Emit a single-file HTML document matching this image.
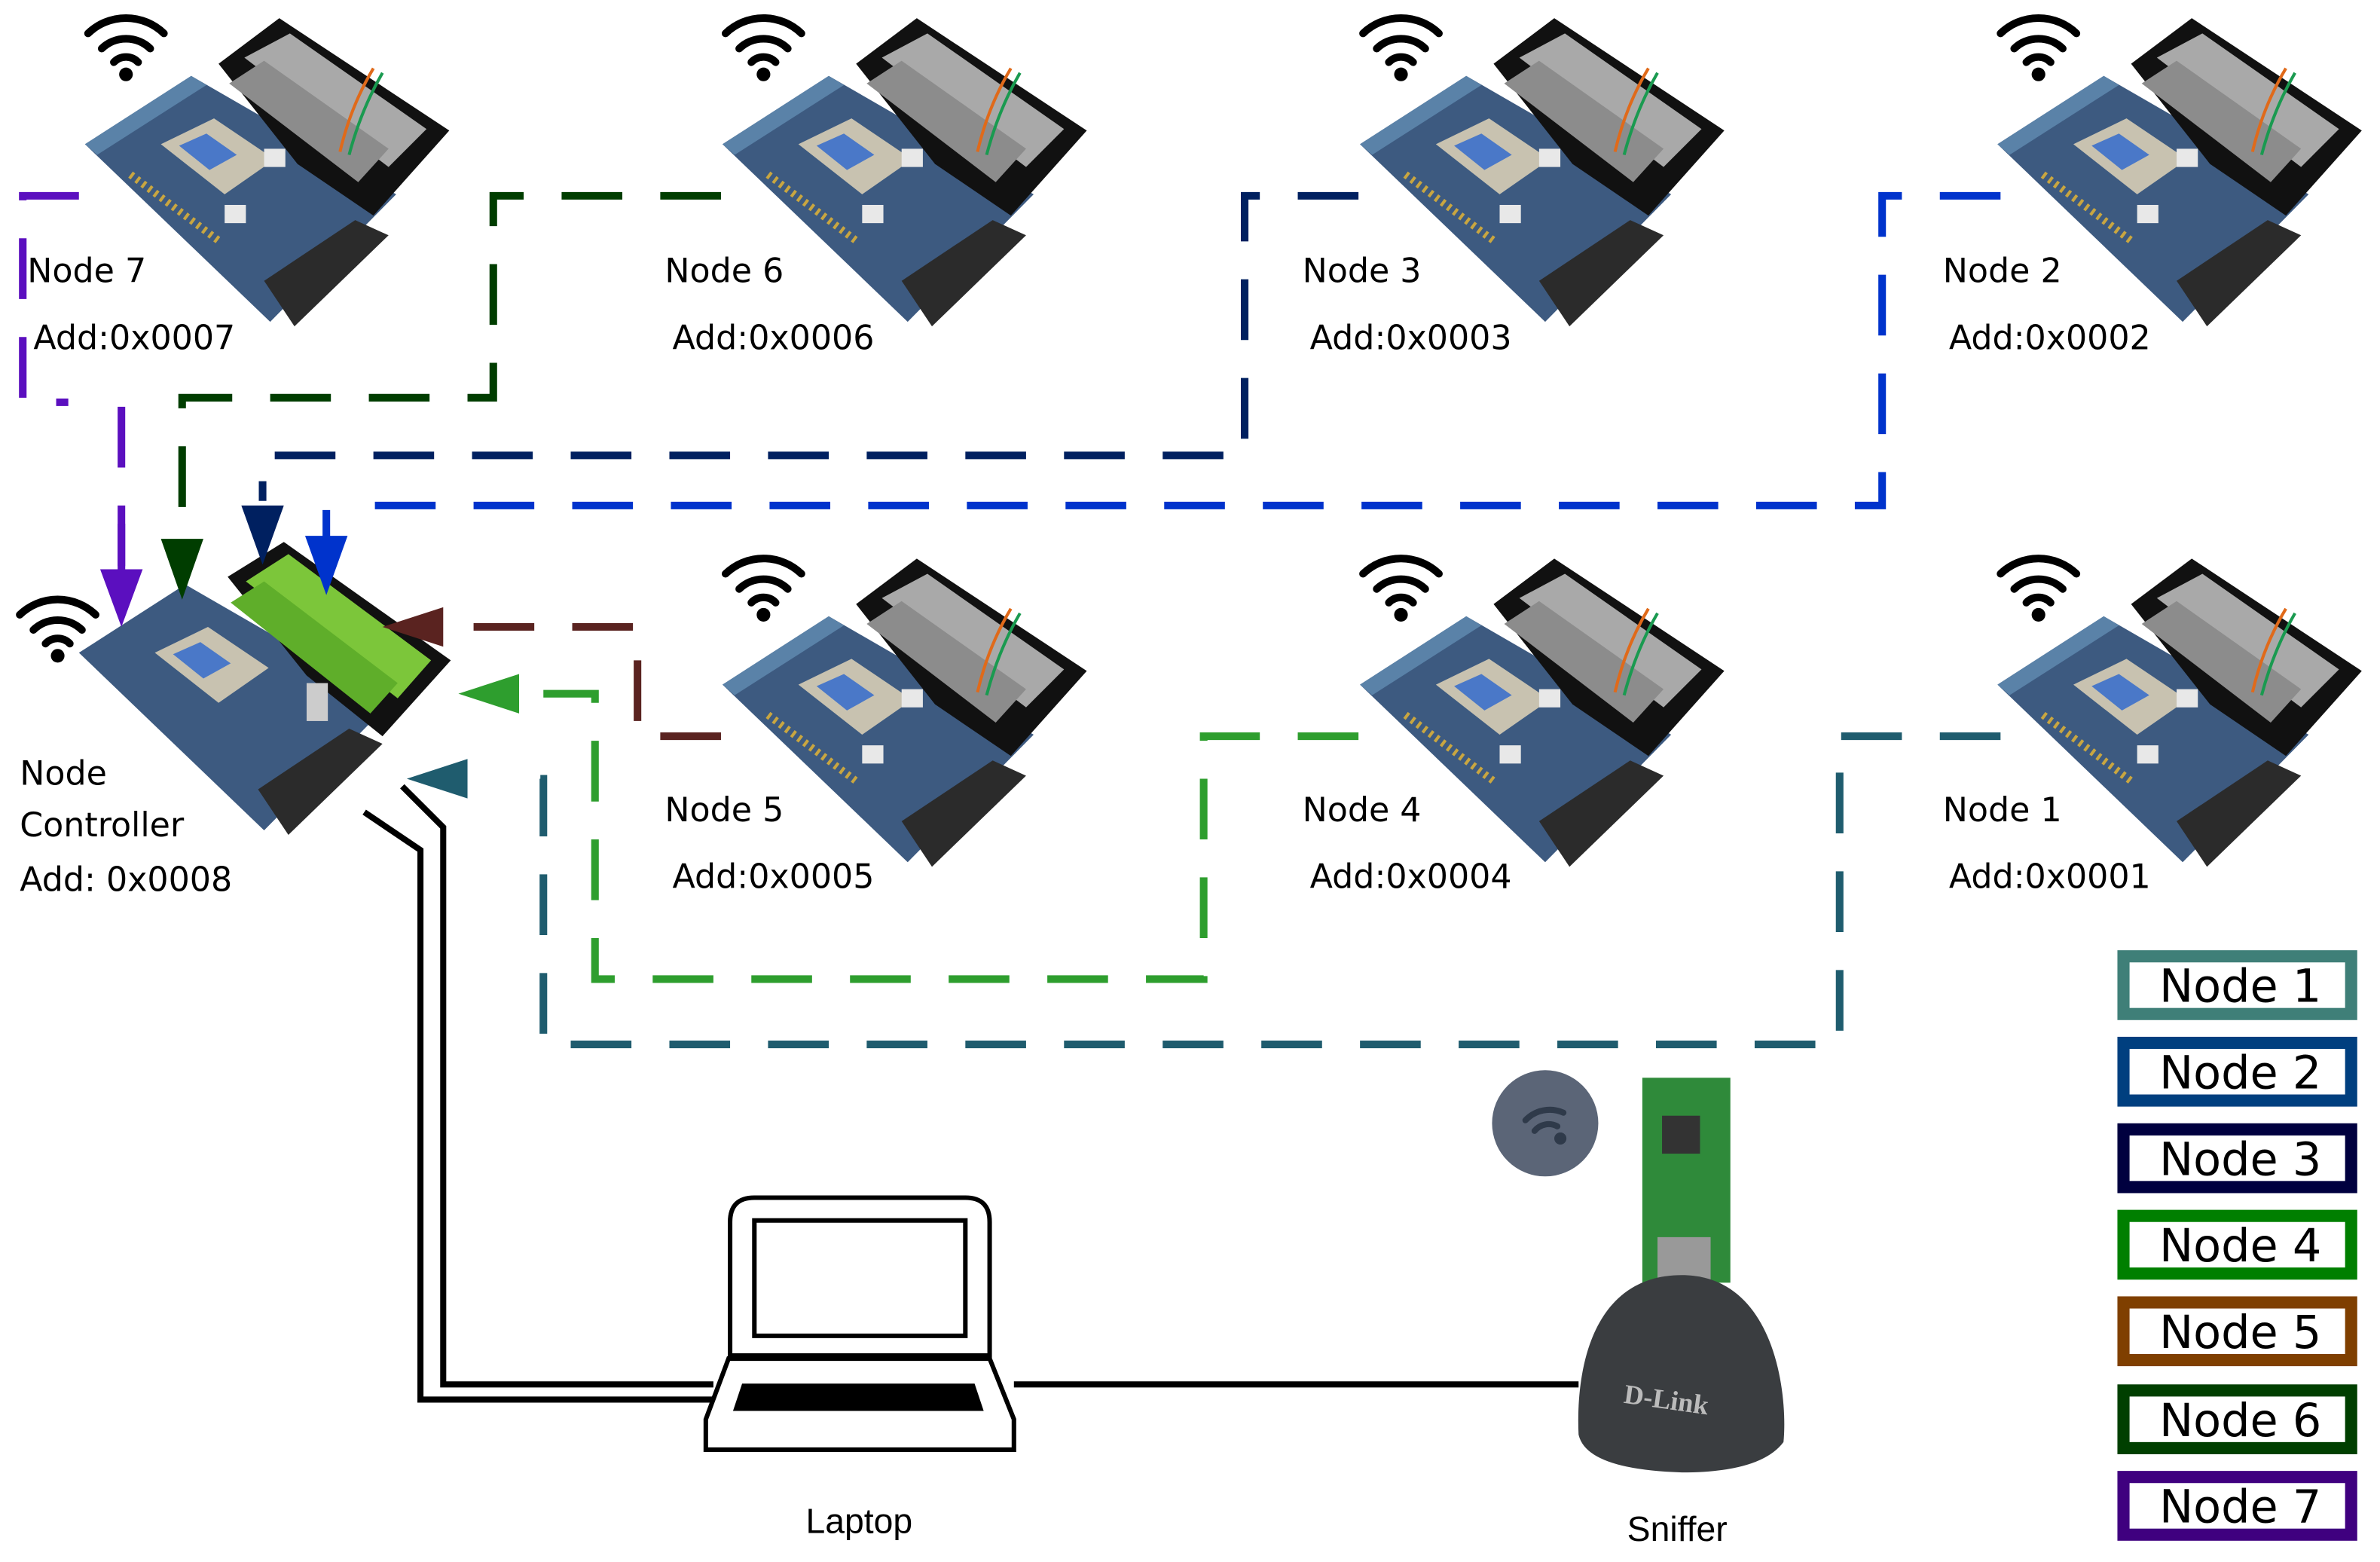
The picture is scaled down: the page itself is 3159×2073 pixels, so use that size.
<!DOCTYPE html>
<html><head><meta charset="utf-8"><style>
html,body{margin:0;padding:0;background:#fff;}
svg{display:block;}
text{font-family:"DejaVu Sans","Liberation Sans",sans-serif;}
</style></head><body>
<svg width="3159" height="2073" viewBox="0 0 1568 1029" preserveAspectRatio="none" xmlns="http://www.w3.org/2000/svg">
<defs>
<g id="board">
  <polygon points="0,95 70,50 205,128 122,212" fill="#3d5a80"/>
  <polygon points="0,95 70,50 80,56 8,102" fill="#5a82a8"/>
  <polygon points="88,42 128,12 240,86 190,142 140,108" fill="#111"/>
  <polygon points="105,38 135,22 225,85 200,110" fill="#a9a9a9"/>
  <polygon points="95,55 118,40 200,98 180,120" fill="#8c8c8c"/>
  <polygon points="50,95 85,78 125,105 92,128" fill="#c8c2b0"/>
  <polygon points="62,96 80,88 100,102 82,112" fill="#4a78c8"/>
  <polygon points="118,185 178,145 200,155 138,215" fill="#2b2b2b"/>
  <rect x="118" y="98" width="14" height="12" fill="#e8e8e8"/>
  <rect x="92" y="135" width="14" height="12" fill="#e8e8e8"/>
  <line x1="30" y1="115" x2="90" y2="160" stroke="#c9a640" stroke-width="5" stroke-dasharray="2,3"/>
  <path d="M190,45 Q175,70 168,100" stroke="#e06a1a" stroke-width="2" fill="none"/>
  <path d="M196,48 Q182,72 174,102" stroke="#1a9a50" stroke-width="2" fill="none"/>
</g>
<g id="wifi" fill="none" stroke="#000" stroke-width="5" stroke-linecap="round">
  <path d="M-25,-8 A36,36 0 0 1 25,-8"/>
  <path d="M-16,2 A23,23 0 0 1 16,2"/>
  <path d="M-8,11 A11,11 0 0 1 8,11"/>
  <circle cx="0" cy="19" r="4.5" fill="#000" stroke="none"/>
</g>
</defs>

<use href="#board" x="56" y="0"/>
<use href="#board" x="476" y="0"/>
<use href="#board" x="896" y="0"/>
<use href="#board" x="1316" y="0"/>
<use href="#board" x="476" y="356"/>
<use href="#board" x="896" y="356"/>
<use href="#board" x="1316" y="356"/>
<g transform="translate(52,335)">
  <polygon points="0,95 70,50 205,128 122,212" fill="#3d5a80"/>
  <polygon points="98,45 135,22 245,100 200,150 150,110" fill="#111"/>
  <polygon points="110,48 138,30 232,100 210,125" fill="#7cc63a"/>
  <polygon points="100,62 122,48 210,115 192,135" fill="#5fae2a"/>
  <polygon points="50,95 85,78 125,105 92,128" fill="#c8c2b0"/>
  <polygon points="62,96 80,88 100,102 82,112" fill="#4a78c8"/>
  <polygon points="118,185 178,145 200,155 138,215" fill="#2b2b2b"/>
  <rect x="150" y="115" width="14" height="25" fill="#ccc"/>
</g>

<use href="#wifi" x="83" y="30"/>
<use href="#wifi" x="503" y="30"/>
<use href="#wifi" x="923" y="30"/>
<use href="#wifi" x="1343" y="30"/>
<use href="#wifi" x="503" y="386"/>
<use href="#wifi" x="923" y="386"/>
<use href="#wifi" x="1343" y="386"/>
<use href="#wifi" x="38" y="413"/>

<g fill="none" stroke-width="5" stroke-dasharray="40,25">
  <path d="M52,129 H15 V265 H45" stroke="#5b0fbf"/>
  <path d="M80,268 V385" stroke="#5b0fbf"/>
  <path d="M475,129 H325 V262 H120 V355" stroke="#003d00"/>
  <path d="M895,129 H820 V300 H173 V330" stroke="#002060"/>
  <path d="M1318,129 H1240 V333 H230" stroke="#0033cc"/>
  <path d="M475,485 H420 V413 H290" stroke="#5a2320"/>
  <path d="M895,485 H793 V645 H392 V457 H340" stroke="#2e9e2e"/>
  <path d="M1318,485 H1212 V688 H358 V513 H338" stroke="#1f5c6e"/>
</g>
<line x1="80" y1="345" x2="80" y2="378" stroke="#5b0fbf" stroke-width="5"/>
<polygon points="66,375 94,375 80,413" fill="#5b0fbf"/>
<polygon points="106,355 134,355 120,395" fill="#003d00"/>
<polygon points="159,333 187,333 173,372" fill="#002060"/>
<polygon points="201,353 229,353 215,392" fill="#0033cc"/>
<line x1="215" y1="336" x2="215" y2="355" stroke="#0033cc" stroke-width="5"/>
<polygon points="292,400 292,426 252,413" fill="#5a2320"/>
<polygon points="342,444 342,470 302,457" fill="#2e9e2e"/>
<polygon points="308,500 308,526 268,513" fill="#1f5c6e"/>

<g fill="none" stroke="#000" stroke-width="4">
  <path d="M240,535 L277,560 V922 H470"/>
  <path d="M265,518 L292,545 V912 H470"/>
  <path d="M668,912 H1040"/>
</g>

<g font-size="22" fill="#000">
  <text x="18" y="186">Node 7</text><text x="22" y="230">Add:0x0007</text>
  <text x="438" y="186">Node 6</text><text x="443" y="230">Add:0x0006</text>
  <text x="858" y="186">Node 3</text><text x="863" y="230">Add:0x0003</text>
  <text x="1280" y="186">Node 2</text><text x="1284" y="230">Add:0x0002</text>
  <text x="438" y="541">Node 5</text><text x="443" y="585">Add:0x0005</text>
  <text x="858" y="541">Node 4</text><text x="863" y="585">Add:0x0004</text>
  <text x="1280" y="541">Node 1</text><text x="1284" y="585">Add:0x0001</text>
  <text x="13" y="517">Node</text><text x="13" y="551">Controller</text><text x="13" y="587">Add: 0x0008</text>
</g>
<text x="566" y="1010" text-anchor="middle" font-size="23" style="font-family:'Liberation Sans Narrow','Liberation Sans',sans-serif">Laptop</text>
<text x="1105" y="1015" text-anchor="middle" font-size="23" style="font-family:'Liberation Sans Narrow','Liberation Sans',sans-serif">Sniffer</text>

<g stroke="#000" stroke-width="3" fill="#fff">
  <path d="M481,893 V805 Q481,789 497,789 H636 Q652,789 652,805 V893 Z"/>
  <rect x="497" y="804" width="139" height="76"/>
  <polygon points="480,895 652,895 668,935 668,955 465,955 465,935"/>
  <polygon points="490,913 641,913 646,928 485,928" fill="#000"/>
</g>

<circle cx="1018" cy="740" r="35" fill="#5b6577"/>
<g fill="none" stroke="#2f3a4a" stroke-width="4" stroke-linecap="round">
  <path d="M1005,738 A22,22 0 0 1 1030,733"/>
  <path d="M1011,745 A12,12 0 0 1 1026,742"/>
</g>
<circle cx="1028" cy="750" r="4" fill="#2f3a4a"/>
<rect x="1082" y="710" width="58" height="135" fill="#2f8a3a"/>
<rect x="1095" y="735" width="25" height="25" fill="#333"/>
<rect x="1092" y="815" width="35" height="40" fill="#999"/>
<path d="M1108,840 C1170,840 1178,920 1175,950 Q1160,970 1108,970 Q1045,968 1040,945 C1038,900 1050,840 1108,840 Z" fill="#3a3d40"/>
<text x="1097" y="928" font-weight="bold" font-size="18" fill="#bbb" transform="rotate(8 1097 928)" text-anchor="middle" style="font-family:'Liberation Serif',serif">D-Link</text>

<g fill="#fff" stroke-width="8">
  <rect x="1399" y="630" width="150" height="38" stroke="#3f7f78"/>
  <rect x="1399" y="687" width="150" height="38" stroke="#003f7f"/>
  <rect x="1399" y="744" width="150" height="38" stroke="#00003f"/>
  <rect x="1399" y="801" width="150" height="38" stroke="#007f00"/>
  <rect x="1399" y="858" width="150" height="38" stroke="#7f3f00"/>
  <rect x="1399" y="916" width="150" height="38" stroke="#003f00"/>
  <rect x="1399" y="973" width="150" height="38" stroke="#3f007f"/>
</g>
<g font-size="30" fill="#000" text-anchor="middle">
  <text x="1476" y="660">Node 1</text>
  <text x="1476" y="717">Node 2</text>
  <text x="1476" y="774">Node 3</text>
  <text x="1476" y="831">Node 4</text>
  <text x="1476" y="888">Node 5</text>
  <text x="1476" y="946">Node 6</text>
  <text x="1476" y="1003">Node 7</text>
</g>
</svg>
</body></html>
